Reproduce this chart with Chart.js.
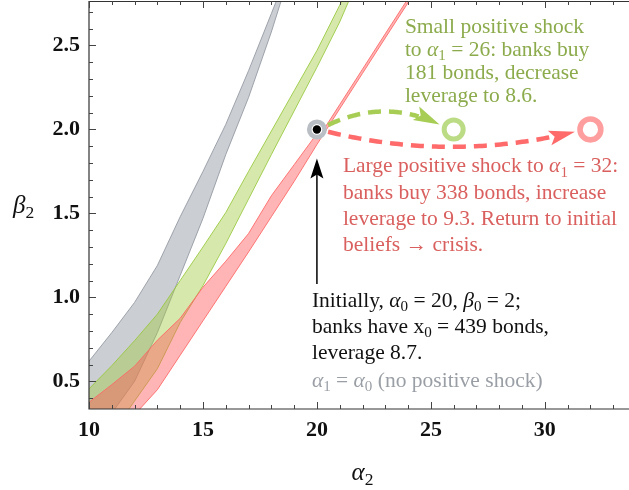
<!DOCTYPE html>
<html>
<head>
<meta charset="utf-8">
<script src="https://cdn.jsdelivr.net/npm/chart.js@4.4.1/dist/chart.umd.min.js"></script>
<style>
  html, body { margin: 0; padding: 0; background: #fff; overflow: hidden; }
  #wrap { width: 629px; height: 490px; overflow: hidden; position: relative; }
  #wrap canvas { position: absolute; left: 0; top: 0; }
</style>
</head>
<body>
<div id="wrap"><canvas id="chart" width="640" height="490"></canvas></div>
<script>
// Band edges (alpha_2, beta_2).
// "upper" = left/upper edge of the band, "lower" = right/lower edge.
const grayUpperX = [9.5, 10, 11, 12, 13, 14, 15, 16, 17, 18, 18.5];
const grayUpperY = [0.53, 0.62, 0.79, 0.97, 1.19, 1.48, 1.75, 2.03, 2.35, 2.69, 2.86];
const grayLowerX = [10.85, 11.05, 12, 13, 14, 15, 16, 17, 18, 18.65];
const grayLowerY = [0.27, 0.32, 0.50, 0.79, 1.13, 1.47, 1.85, 2.19, 2.58, 2.86];

const greenUpperX = [9.5, 10, 11, 12, 13, 14, 15, 16, 17, 18, 19, 20, 21, 21.5];
const greenUpperY = [0.39, 0.455, 0.593, 0.742, 0.90, 1.10, 1.30, 1.505, 1.75, 1.99, 2.23, 2.47, 2.74, 2.87];
const greenLowerX = [11.55, 11.7, 13, 14, 15, 16, 17, 18, 19, 20, 21, 21.7];
const greenLowerY = [0.28, 0.325, 0.575, 0.85, 1.07, 1.32, 1.585, 1.85, 2.11, 2.37, 2.64, 2.86];

const redUpperX = [9.5, 10, 11, 12, 13, 14, 15, 16, 17, 18, 19, 20, 20.3, 21, 22, 23, 24, 24.4];
const redUpperY = [0.32, 0.375, 0.48, 0.59, 0.745, 0.875, 1.06, 1.215, 1.38, 1.605, 1.79, 1.975, 2.0, 2.148, 2.359, 2.57, 2.78, 2.865];
const redLowerX = [12.05, 12.23, 13, 14, 15, 16, 17, 18, 19, 20, 20.4, 21, 22, 23, 24, 24.5];
const redLowerY = [0.29, 0.335, 0.45, 0.655, 0.86, 1.065, 1.27, 1.48, 1.69, 1.91, 1.995, 2.123, 2.334, 2.545, 2.755, 2.86];

// initial point and the two shocks
const shockAlpha = [20, 26, 32];
const shockBeta = [2, 2, 2];

// dashed arrows: start, bend, tip
const smallArrowX = [20.49, 22.94, 25.38];
const smallArrowY = [2.026, 2.186, 2.03];
const largeArrowX = [20.49, 25.88, 31.32];
const largeArrowY = [1.986, 1.807, 1.986];
// black arrow pointing at the initial point
const initArrowX = [20, 20];
const initArrowY = [1.08, 1.827];

// text blocks: anchor (first baseline) in data units, lines of [text, style]
// style: 'i' italic, 's' subscript
const smallShockAt = [23.86, 2.577];
const smallShockText = [
  [['Small positive shock']],
  [['to '], ['α', 'i'], ['1', 's'], [' = 26: banks buy']],
  [['181 bonds, decrease']],
  [['leverage to 8.6.']]
];
const largeShockAt = [21.14, 1.744];
const largeShockText = [
  [['Large positive shock to '], ['α', 'i'], ['1', 's'], [' = 32:']],
  [['banks buy 338 bonds, increase']],
  [['leverage to 9.3. Return to initial']],
  [['beliefs → crisis.']]
];
const initialAt = [19.78, 0.944];
const initialText = [
  [['Initially, '], ['α', 'i'], ['0', 's'], [' = 20, '], ['β', 'i'], ['0', 's'], [' = 2;']],
  [['banks have x'], ['0', 's'], [' = 439 bonds,']],
  [['leverage 8.7.']]
];
const noShockAt = [19.78, 0.468];
const noShockText = [
  [['α', 'i'], ['1', 's'], [' = '], ['α', 'i'], ['0', 's'], [' (no positive shock)']]
];

const SERIF = '"Liberation Serif", "DejaVu Serif", serif';

// closed outline of a band: corner below the plot, up the left edge, back down the right edge
function bandPoints(ux, uy, lx, ly) {
  const pts = [{x: ux[0], y: ly[0]}];
  ux.forEach((v, i) => pts.push({x: v, y: uy[i]}));
  for (let i = lx.length - 1; i >= 0; i--) pts.push({x: lx[i], y: ly[i]});
  return pts;
}

function band(points, fill, border, order) {
  return {
    data: points,
    showLine: true,
    fill: 'shape',
    backgroundColor: fill,
    borderColor: border,
    borderWidth: 1,
    pointRadius: 0,
    tension: 0,
    order: order,
  };
}

// text with italic / subscript runs
function drawRich(ctx, line, x, y, size, color, align) {
  const runs = line.map(([t, st]) => {
    const sub = !!st && st.includes('s');
    const it = !!st && st.includes('i');
    const fs = sub ? size * 0.7 : size;
    const font = `${it ? 'italic ' : ''}${fs}px ${SERIF}`;
    ctx.font = font;
    return {t, sub, font, w: ctx.measureText(t).width};
  });
  let cx = x;
  if (align === 'center') cx -= runs.reduce((s, r) => s + r.w, 0) / 2;
  ctx.fillStyle = color;
  ctx.textAlign = 'left';
  ctx.textBaseline = 'alphabetic';
  for (const r of runs) {
    ctx.font = r.font;
    ctx.fillText(r.t, cx, r.sub ? y + size * 0.2 : y);
    cx += r.w;
  }
}

function drawBlock(ctx, xs, ys, at, lines, gap, color) {
  const x0 = xs.getPixelForValue(at[0]);
  const y0 = ys.getPixelForValue(at[1]);
  lines.forEach((ln, i) => drawRich(ctx, ln, x0, y0 + i * gap, 21.5, color));
}

function arrowHead(ctx, tip, ux, uy, len, half, color) {
  const bx = tip[0] - ux * len, by = tip[1] - uy * len;
  ctx.fillStyle = color;
  ctx.beginPath();
  ctx.moveTo(tip[0], tip[1]);
  ctx.lineTo(bx - uy * half, by + ux * half);
  ctx.lineTo(tip[0] - ux * len * 0.8, tip[1] - uy * len * 0.8);
  ctx.lineTo(bx + uy * half, by - ux * half);
  ctx.closePath();
  ctx.fill();
}

function drawCurveArrow(ctx, xs, ys, ax, ay, color) {
  const p = ax.map((v, i) => [xs.getPixelForValue(v), ys.getPixelForValue(ay[i])]);
  const head = 26;
  const tip = p[2];
  const pts = [];
  for (let k = 0; k <= 80; k++) {
    const t = k / 80, u = 1 - t;
    const q = [u * u * p[0][0] + 2 * u * t * p[1][0] + t * t * p[2][0],
               u * u * p[0][1] + 2 * u * t * p[1][1] + t * t * p[2][1]];
    if (Math.hypot(tip[0] - q[0], tip[1] - q[1]) < head - 5) break;
    pts.push(q);
  }
  ctx.strokeStyle = color;
  ctx.lineWidth = 4.5;
  ctx.lineCap = 'butt';
  ctx.setLineDash([13, 8]);
  ctx.beginPath();
  pts.forEach((q, i) => i ? ctx.lineTo(q[0], q[1]) : ctx.moveTo(q[0], q[1]));
  ctx.stroke();
  ctx.setLineDash([]);
  const dx = p[2][0] - p[1][0], dy = p[2][1] - p[1][1], d = Math.hypot(dx, dy);
  arrowHead(ctx, tip, dx / d, dy / d, head, 7.5, color);
}

// Mathematica-like frame: inward ticks, annotations on top
const overlay = {
  id: 'overlay',
  afterDraw(chart) {
    const {ctx, chartArea: a, scales: {x, y}} = chart;
    ctx.save();

    drawCurveArrow(ctx, x, y, smallArrowX, smallArrowY, '#a7cd55');
    drawCurveArrow(ctx, x, y, largeArrowX, largeArrowY, '#ff6a6a');

    // black arrow up to the initial point
    const ax = x.getPixelForValue(initArrowX[0]);
    const ay0 = y.getPixelForValue(initArrowY[0]);
    const ay1 = y.getPixelForValue(initArrowY[1]);
    ctx.strokeStyle = '#000';
    ctx.lineWidth = 1.5;
    ctx.beginPath();
    ctx.moveTo(ax, ay0);
    ctx.lineTo(ax, ay1 + 14);
    ctx.stroke();
    arrowHead(ctx, [ax, ay1], 0, -1, 20, 6.5, '#000');

    // frame
    ctx.strokeStyle = '#333';
    ctx.lineWidth = 1.2;
    ctx.beginPath();
    ctx.moveTo(a.right, a.top + 0.5);
    ctx.lineTo(a.left, a.top + 0.5);
    ctx.lineTo(a.left, a.bottom);
    ctx.lineTo(a.right, a.bottom);
    ctx.stroke();

    ctx.lineWidth = 1;
    ctx.strokeStyle = '#444';
    ctx.beginPath();
    for (let v = Math.ceil(x.min); v <= x.max; v++) {
      const px = Math.round(x.getPixelForValue(v)) + 0.5;
      const len = v % 5 === 0 ? 7 : 4;
      ctx.moveTo(px, a.bottom);
      ctx.lineTo(px, a.bottom - len);
      ctx.moveTo(px, a.top);
      ctx.lineTo(px, a.top + len);
    }
    for (let k = Math.ceil(y.min * 10); k <= y.max * 10; k++) {
      const py = Math.round(y.getPixelForValue(k / 10)) + 0.5;
      const len = k % 5 === 0 ? 7 : 4;
      ctx.moveTo(a.left, py);
      ctx.lineTo(a.left + len, py);
    }
    ctx.stroke();

    // axis titles
    drawRich(ctx, [['β', 'i'], ['2', 's']], a.left - 76, (a.top + a.bottom) / 2 + 8, 25, '#111');
    drawRich(ctx, [['α', 'i'], ['2', 's']], (a.left + a.right) / 2, 480, 25, '#111', 'center');

    // annotations
    drawBlock(ctx, x, y, smallShockAt, smallShockText, 23.1, '#8cab4c');
    drawBlock(ctx, x, y, largeShockAt, largeShockText, 26.3, '#d9605e');
    drawBlock(ctx, x, y, initialAt, initialText, 26.3, '#111');
    drawBlock(ctx, x, y, noShockAt, noShockText, 26.3, '#9a9fa6');

    ctx.restore();
  }
};

const tickFont = {family: SERIF, size: 22, weight: 'bold'};

new Chart(document.getElementById('chart'), {
  type: 'scatter',
  data: {
    datasets: [
      {
        data: shockAlpha.slice(0, 1).map((v, i) => ({x: v, y: shockBeta[i]})),
        pointRadius: 4.2,
        pointBackgroundColor: '#000',
        pointBorderWidth: 0,
        order: 0,
      },
      {
        data: shockAlpha.map((v, i) => ({x: v, y: shockBeta[i]})),
        pointRadius: [7.7, 9.5, 10.4],
        pointBorderWidth: [4.6, 5, 5.6],
        pointBorderColor: ['#b9bdc4', '#bcdb85', '#ff9e9e'],
        pointBackgroundColor: '#fff',
        order: 1,
      },
      band(bandPoints(redUpperX, redUpperY, redLowerX, redLowerY),
           'rgba(255,90,90,0.45)', 'rgba(255,100,100,0.85)', 3),
      band(bandPoints(greenUpperX, greenUpperY, greenLowerX, greenLowerY),
           'rgba(160,200,60,0.42)', 'rgba(150,200,60,0.85)', 4),
      band(bandPoints(grayUpperX, grayUpperY, grayLowerX, grayLowerY),
           'rgba(140,146,156,0.45)', 'rgba(140,146,156,0.8)', 5),
    ],
  },
  options: {
    responsive: false,
    animation: false,
    layout: {autoPadding: false, padding: {left: 0, right: 4, top: 1, bottom: 0}},
    plugins: {legend: {display: false}, tooltip: {enabled: false}},
    scales: {
      x: {
        type: 'linear',
        min: 10,
        max: 34,
        grid: {display: false, drawTicks: false},
        border: {display: false},
        ticks: {stepSize: 5, includeBounds: false, padding: 8, maxRotation: 0, color: '#111', font: tickFont},
        afterFit: (s) => { s.height = 81; s.paddingLeft = 0; s.paddingRight = 0; },
      },
      y: {
        type: 'linear',
        min: 0.335,
        max: 2.765,
        grid: {display: false, drawTicks: false},
        border: {display: false},
        ticks: {stepSize: 0.5, includeBounds: false, padding: 9, color: '#111', font: tickFont,
                callback: (v) => v.toFixed(1)},
        afterFit: (s) => { s.width = 89; s.paddingTop = 0; s.paddingBottom = 0; },
      },
    },
  },
  plugins: [overlay],
});
</script>
</body>
</html>
